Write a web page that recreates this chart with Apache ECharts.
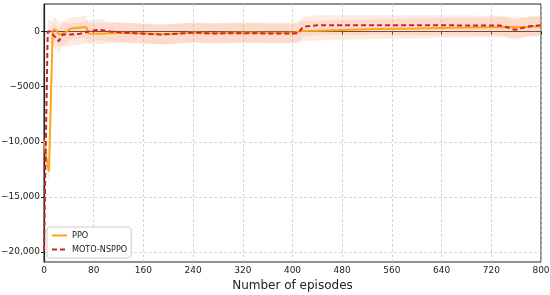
<!DOCTYPE html>
<html>
<head>
<meta charset="utf-8">
<script src="https://cdn.jsdelivr.net/npm/echarts@6/dist/echarts.min.js"></script>
<style>
  html, body { margin: 0; padding: 0; background: #fff; }
  #chart { width: 550px; height: 295px; }
</style>
</head>
<body>
<div id="chart"></div>
<script>
// values
var ppoEpisodes = [0, 4, 8, 14, 18, 24, 34, 42, 52, 63, 68, 71, 90, 106, 130, 160, 190, 220, 240, 270, 300, 330, 360, 390, 405, 415, 440, 480, 520, 560, 600, 640, 680, 720, 750, 760, 780, 800];
var ppoValues = [-9900, -11500, -12700, 100, 200, -270, -100, 250, 330, 400, 380, -180, -200, -150, -100, -150, -250, -150, -80, -130, -100, -80, -100, -100, -60, 50, 80, 150, 200, 250, 280, 330, 360, 400, 420, 400, 430, 480];
var ppoSpread = [900, 1000, 1000, 1100, 1100, 1100, 1100, 1000, 1000, 1000, 1000, 950, 950, 900, 900, 900, 900, 900, 900, 900, 900, 900, 900, 900, 900, 900, 900, 900, 900, 900, 900, 900, 900, 900, 950, 950, 900, 900];

var motoEpisodes = [0, 6, 10, 15, 24, 30, 42, 58, 71, 82, 92, 106, 130, 155, 187, 215, 240, 270, 300, 330, 360, 395, 409, 417, 440, 480, 560, 640, 720, 734, 748, 758, 768, 782, 800];
var motoValues = [-19800, 0, 0, -300, -880, -270, -270, -200, 0, 120, 150, 0, -100, -180, -270, -200, -90, -180, -150, -150, -170, -180, -150, 430, 570, 580, 570, 570, 540, 560, 350, 150, 300, 480, 570];
var motoSpread = [900, 1000, 1100, 1100, 1100, 1100, 1000, 1000, 1000, 950, 950, 900, 900, 900, 900, 900, 900, 900, 900, 900, 900, 900, 900, 900, 900, 900, 900, 900, 900, 900, 900, 900, 900, 900, 900];

var yTicks = [-20000, -15000, -10000, -5000, 0];

function pairs(xs, ys) {
  return xs.map(function (x, i) { return [x, ys[i]]; });
}
// rows of [episode, low, high] for the shaded spread
function bandRows(xs, ys, sd) {
  return xs.map(function (x, i) { return [x, ys[i] - sd[i], ys[i] + sd[i]]; });
}

function fmtY(v) {
  if (v === 0) return "0";
  var a = Math.abs(v);
  return "\u2212" + (a >= 10000 ? a.toLocaleString("en-US") : String(a));
}

var bandColor = "#f59a72";

// draws the whole band as one polygon, from the first item
function bandRenderer(rows) {
  return function (params, api) {
    if (params.dataIndex !== 0) return null;
    var pts = [];
    rows.forEach(function (r) { pts.push(api.coord([r[0], r[2]])); });
    for (var i = rows.length - 1; i >= 0; i--) pts.push(api.coord([rows[i][0], rows[i][1]]));
    return {
      type: "polygon",
      shape: { points: pts },
      style: { fill: bandColor, opacity: 0.2 },
      silent: true,
    };
  };
}

var ppoBand = bandRows(ppoEpisodes, ppoValues, ppoSpread);
var motoBand = bandRows(motoEpisodes, motoValues, motoSpread);

var chart = echarts.init(document.getElementById("chart"));
chart.setOption({
  animation: false,
  textStyle: { fontFamily: "DejaVu Sans" },
  grid: {
    left: 44,
    right: 9,
    top: 4,
    bottom: 33,
    outerBoundsMode: "none",
    containLabel: false,
    show: true,
    borderColor: "#222",
    borderWidth: 1,
  },
  legend: {
    data: ["PPO", "MOTO-NSPPO"],
    orient: "vertical",
    left: 47,
    bottom: 37,
    itemWidth: 15,
    itemHeight: 8,
    itemGap: 5,
    padding: [4, 4],
    backgroundColor: "#fff",
    borderColor: "#ccc",
    borderWidth: 1,
    borderRadius: 3,
    itemStyle: { opacity: 0 },
    textStyle: { fontSize: 9, color: "#222", fontFamily: "Liberation Sans Narrow, DejaVu Sans Condensed, DejaVu Sans" },
  },
  xAxis: {
    type: "value",
    min: 0,
    max: 800,
    interval: 80,
    name: "Number of episodes",
    nameLocation: "middle",
    nameGap: 12,
    nameTextStyle: { fontSize: 12, color: "#222" },
    axisLine: { lineStyle: { color: "#222", width: 1.2 } },
    axisTick: { length: 3, lineStyle: { color: "#222" } },
    axisLabel: { fontSize: 9, color: "#222", margin: 4 },
    splitLine: { lineStyle: { color: "#ccc", type: [3, 2], width: 0.8 } },
  },
  yAxis: {
    type: "value",
    min: -20900,
    max: 2500,
    name: "Episodic Value",
    nameLocation: "middle",
    nameGap: 31,
    nameTextStyle: { fontSize: 10, color: "#222" },
    axisLine: { show: true, lineStyle: { color: "#222", width: 1.2 } },
    axisTick: { show: true, length: 3, lineStyle: { color: "#222" }, customValues: yTicks },
    axisLabel: { fontSize: 9, color: "#222", margin: 4, customValues: yTicks, formatter: fmtY },
    splitLine: { lineStyle: { color: "#ccc", type: [3, 2], width: 0.8 } },
  },
  series: [
    {
      name: "ppoBand",
      type: "custom",
      data: ppoBand,
      encode: { x: 0, y: [1, 2] },
      renderItem: bandRenderer(ppoBand),
      silent: true,
      clip: true,
    },
    {
      name: "motoBand",
      type: "custom",
      data: motoBand,
      encode: { x: 0, y: [1, 2] },
      renderItem: bandRenderer(motoBand),
      silent: true,
      clip: true,
    },
    {
      name: "PPO",
      type: "line",
      data: pairs(ppoEpisodes, ppoValues),
      symbol: "none",
      color: "#ffa31a",
      lineStyle: { color: "#ffa31a", width: 2 },
    },
    {
      name: "MOTO-NSPPO",
      type: "line",
      data: pairs(motoEpisodes, motoValues),
      symbol: "none",
      color: "#c8262e",
      lineStyle: { color: "#c8262e", width: 2, type: [5, 3] },
    },
  ],
});
</script>
</body>
</html>
